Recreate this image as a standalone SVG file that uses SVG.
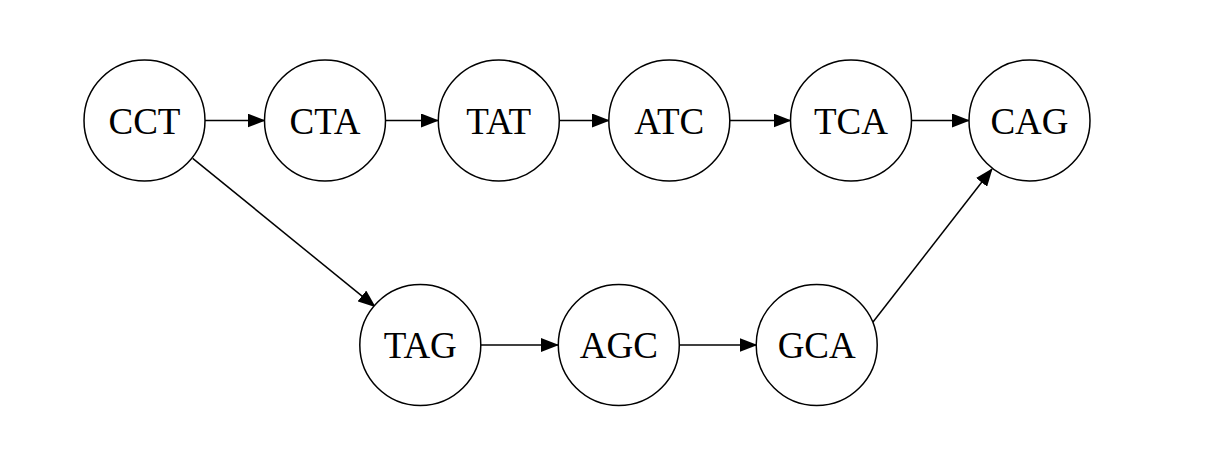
<svg xmlns="http://www.w3.org/2000/svg" width="1214" height="462" viewBox="0 0 1214 462">
<style>
.node circle{fill:#fff;stroke:#000;stroke-width:1.5}
.node text{font-family:"Liberation Serif","Times New Roman",serif;font-size:37px;fill:#000;text-anchor:middle}
.edge{stroke:#000;stroke-width:1.5;fill:none;marker-end:url(#arr)}
</style>
<defs>
<marker id="arr" markerUnits="userSpaceOnUse" viewBox="0 0 18 14" markerWidth="18" markerHeight="14" refX="17" refY="7" orient="auto">
<path d="M0,0 L18,7 L0,14 z" fill="#000"/>
</marker>
</defs>
<rect width="1214" height="462" fill="#fff"/>
<g id="edges">
<line class="edge" x1="205" y1="120.5" x2="264.5" y2="120.5"/>
<line class="edge" x1="385.5" y1="120.5" x2="438" y2="120.5"/>
<line class="edge" x1="559.5" y1="120.5" x2="609" y2="120.5"/>
<line class="edge" x1="730" y1="120.5" x2="790.5" y2="120.5"/>
<line class="edge" x1="911.5" y1="120.5" x2="969" y2="120.5"/>
<line class="edge" x1="192.7" y1="158.3" x2="375" y2="306.7"/>
<line class="edge" x1="481" y1="345" x2="558" y2="345"/>
<line class="edge" x1="679.5" y1="345" x2="756.5" y2="345"/>
<line class="edge" x1="873" y1="322" x2="992" y2="169"/>
</g>
<g id="CCT" class="node"><circle cx="144.5" cy="120.5" r="60.5"/><text x="144.5" y="133.5">CCT</text></g>
<g id="CTA" class="node"><circle cx="325" cy="120.5" r="60.5"/><text x="325" y="133.5">CTA</text></g>
<g id="TAT" class="node"><circle cx="498.8" cy="120.5" r="60.5"/><text x="498.8" y="133.5">TAT</text></g>
<g id="ATC" class="node"><circle cx="669.3" cy="120.5" r="60.5"/><text x="669.3" y="133.5">ATC</text></g>
<g id="TCA" class="node"><circle cx="851" cy="120.5" r="60.5"/><text x="851" y="133.5">TCA</text></g>
<g id="CAG" class="node"><circle cx="1029.5" cy="120.5" r="60.5"/><text x="1029.5" y="133.5">CAG</text></g>
<g id="TAG" class="node"><circle cx="420.3" cy="345" r="60.5"/><text x="420.3" y="358">TAG</text></g>
<g id="AGC" class="node"><circle cx="618.8" cy="345" r="60.5"/><text x="618.8" y="358">AGC</text></g>
<g id="GCA" class="node"><circle cx="816.7" cy="345" r="60.5"/><text x="816.7" y="358">GCA</text></g>
</svg>
